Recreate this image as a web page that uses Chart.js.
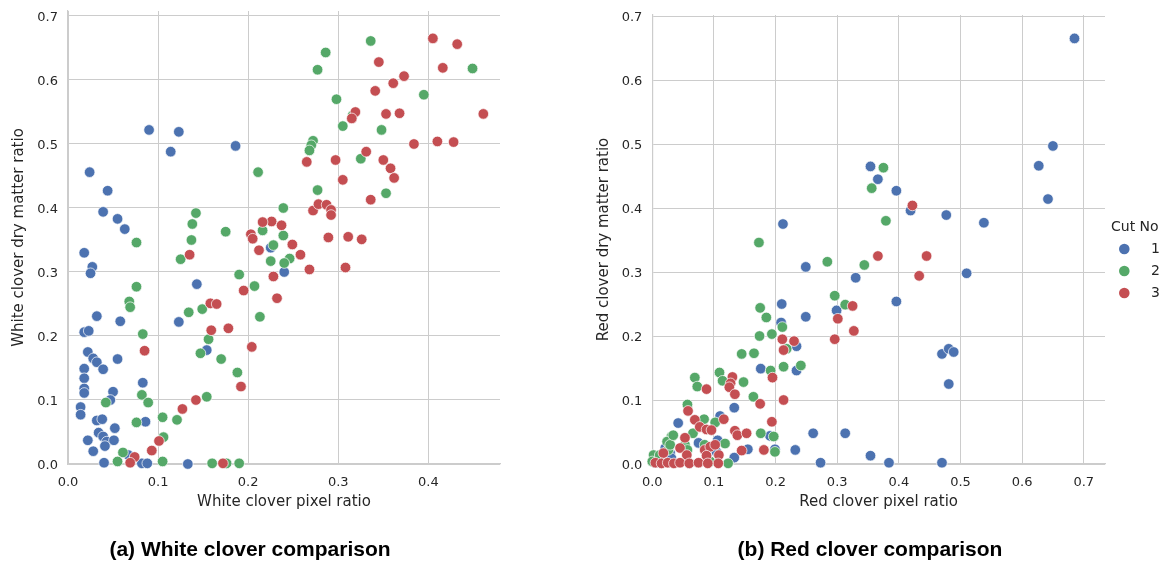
<!DOCTYPE html>
<html><head><meta charset="utf-8">
<script src="https://cdn.jsdelivr.net/npm/chart.js@4.4.0/dist/chart.umd.min.js"></script>
<style>
body{margin:0;background:#fff;width:1167px;height:561px;overflow:hidden;position:relative;}
canvas{position:absolute;top:0;}
#c1{left:0}
#c2{left:583px}
.cap{position:absolute;top:537px;line-height:24px;font:bold 21px "Liberation Sans",Arial,sans-serif;color:#000;white-space:nowrap;transform:translateX(-50%);}
</style></head><body>
<canvas id="c1" width="583" height="561"></canvas>
<canvas id="c2" width="584" height="561"></canvas>
<div class="cap" style="left:250px">(a) White clover comparison</div>
<div class="cap" style="left:870px">(b) Red clover comparison</div>
<script>
const cutLabels = ['1', '2', '3'];
const cutColors = ['#4c72b0', '#55a868', '#c44e52'];
const yTicks = [0, 0.1, 0.2, 0.3, 0.4, 0.5, 0.6, 0.7];
const whiteXTicks = [0, 0.1, 0.2, 0.3, 0.4];
const redXTicks = [0, 0.1, 0.2, 0.3, 0.4, 0.5, 0.6, 0.7];

const whiteCut1 = [
[0.090,0.522],[0.123,0.519],[0.114,0.488],[0.186,0.497],[0.024,0.456],[0.044,0.427],[0.039,0.394],
[0.055,0.383],[0.063,0.367],[0.018,0.330],[0.027,0.308],[0.025,0.298],[0.143,0.281],[0.032,0.231],
[0.058,0.223],[0.123,0.222],[0.018,0.206],[0.023,0.208],[0.022,0.175],[0.028,0.165],[0.032,0.159],
[0.039,0.148],[0.055,0.164],[0.018,0.149],[0.018,0.134],[0.018,0.118],[0.018,0.111],[0.083,0.127],
[0.050,0.113],[0.047,0.100],[0.014,0.089],[0.014,0.077],[0.032,0.068],[0.038,0.070],[0.086,0.066],
[0.052,0.056],[0.034,0.049],[0.039,0.043],[0.043,0.035],[0.051,0.037],[0.022,0.037],[0.041,0.028],
[0.028,0.020],[0.040,0.002],[0.067,0.014],[0.082,0.001],[0.088,0.001],[0.133,0.000],[0.154,0.178],
[0.225,0.338],[0.240,0.300]
];
const whiteCut2 = [
[0.286,0.643],[0.336,0.661],[0.277,0.616],[0.449,0.618],[0.298,0.570],[0.395,0.577],[0.316,0.545],
[0.305,0.528],[0.348,0.522],[0.272,0.505],[0.270,0.498],[0.268,0.490],[0.325,0.477],[0.277,0.428],
[0.353,0.423],[0.239,0.400],[0.239,0.357],[0.211,0.456],[0.142,0.392],[0.138,0.375],[0.175,0.363],
[0.137,0.350],[0.125,0.320],[0.216,0.365],[0.228,0.342],[0.225,0.317],[0.246,0.321],[0.240,0.314],
[0.190,0.296],[0.207,0.278],[0.134,0.237],[0.149,0.242],[0.213,0.230],[0.156,0.195],[0.147,0.173],
[0.170,0.164],[0.188,0.143],[0.076,0.346],[0.076,0.277],[0.068,0.254],[0.069,0.245],[0.083,0.203],
[0.082,0.108],[0.089,0.096],[0.042,0.096],[0.154,0.105],[0.076,0.065],[0.105,0.073],[0.121,0.069],
[0.106,0.042],[0.061,0.018],[0.055,0.004],[0.105,0.004],[0.160,0.001],[0.176,0.001],[0.190,0.001]
];
const whiteCut3 = [
[0.405,0.665],[0.432,0.656],[0.345,0.628],[0.416,0.619],[0.361,0.595],[0.373,0.606],[0.341,0.583],
[0.461,0.547],[0.319,0.550],[0.315,0.540],[0.353,0.547],[0.368,0.548],[0.384,0.500],[0.410,0.504],
[0.428,0.503],[0.331,0.488],[0.265,0.472],[0.297,0.475],[0.350,0.475],[0.358,0.462],[0.362,0.447],
[0.305,0.444],[0.336,0.413],[0.272,0.396],[0.278,0.406],[0.287,0.405],[0.292,0.397],[0.292,0.389],
[0.226,0.379],[0.237,0.373],[0.216,0.378],[0.289,0.354],[0.311,0.355],[0.326,0.351],[0.249,0.343],
[0.258,0.327],[0.268,0.304],[0.308,0.307],[0.228,0.293],[0.232,0.259],[0.203,0.359],[0.205,0.352],
[0.212,0.334],[0.135,0.327],[0.195,0.271],[0.158,0.251],[0.165,0.250],[0.159,0.209],[0.178,0.212],
[0.204,0.183],[0.085,0.177],[0.192,0.121],[0.142,0.100],[0.127,0.086],[0.101,0.036],[0.093,0.021],
[0.074,0.011],[0.069,0.002],[0.172,0.001]
];

const redCut1 = [
[0.685,0.665],[0.650,0.497],[0.627,0.466],[0.642,0.414],[0.354,0.465],[0.366,0.445],[0.396,0.427],
[0.419,0.396],[0.477,0.389],[0.538,0.377],[0.330,0.291],[0.510,0.298],[0.299,0.240],[0.396,0.254],
[0.470,0.172],[0.481,0.180],[0.489,0.175],[0.481,0.125],[0.313,0.048],[0.354,0.013],[0.384,0.002],
[0.470,0.002],[0.273,0.002],[0.212,0.375],[0.249,0.308],[0.210,0.250],[0.209,0.221],[0.249,0.230],
[0.234,0.184],[0.176,0.149],[0.234,0.146],[0.133,0.088],[0.042,0.064],[0.110,0.075],[0.075,0.033],
[0.106,0.037],[0.191,0.044],[0.155,0.023],[0.199,0.023],[0.133,0.010],[0.232,0.022],[0.021,0.025],
[0.029,0.017],[0.031,0.009],[0.012,0.006],[0.104,0.019],[0.261,0.048],[0.005,0.002],[0.060,0.001]
];
const redCut2 = [
[0.375,0.463],[0.356,0.431],[0.379,0.380],[0.284,0.316],[0.344,0.311],[0.296,0.263],[0.313,0.249],
[0.173,0.346],[0.175,0.244],[0.185,0.229],[0.211,0.214],[0.174,0.200],[0.194,0.203],[0.145,0.172],
[0.165,0.173],[0.218,0.180],[0.213,0.152],[0.241,0.154],[0.192,0.146],[0.148,0.128],[0.164,0.105],
[0.109,0.143],[0.114,0.130],[0.069,0.135],[0.073,0.121],[0.057,0.093],[0.084,0.070],[0.102,0.065],
[0.066,0.048],[0.176,0.048],[0.197,0.043],[0.118,0.032],[0.199,0.019],[0.031,0.043],[0.024,0.035],
[0.026,0.022],[0.029,0.030],[0.053,0.030],[0.057,0.022],[0.085,0.030],[0.034,0.045],[0.123,0.001],
[0.002,0.014],[0.000,0.004],[0.012,0.014],[0.094,0.004]
];
const redCut3 = [
[0.422,0.404],[0.366,0.325],[0.445,0.325],[0.433,0.294],[0.325,0.247],[0.301,0.227],[0.327,0.208],
[0.296,0.195],[0.211,0.195],[0.230,0.192],[0.213,0.178],[0.195,0.135],[0.213,0.100],[0.088,0.117],
[0.175,0.094],[0.130,0.136],[0.127,0.126],[0.125,0.120],[0.134,0.109],[0.058,0.083],[0.116,0.070],
[0.069,0.069],[0.077,0.058],[0.088,0.054],[0.096,0.053],[0.134,0.052],[0.138,0.045],[0.153,0.048],
[0.194,0.066],[0.053,0.041],[0.045,0.025],[0.085,0.022],[0.094,0.027],[0.102,0.030],[0.145,0.021],
[0.181,0.022],[0.018,0.017],[0.056,0.014],[0.088,0.013],[0.108,0.014],[0.107,0.001],[0.005,0.002],
[0.015,0.001],[0.025,0.002],[0.035,0.001],[0.045,0.002],[0.060,0.001],[0.075,0.002],[0.090,0.001]
];

const TEXT = '#262626';
const GRID = '#cccccc';
const FONT = '"DejaVu Sans", sans-serif';

function toPts(a) { return a.map(p => ({x: p[0], y: p[1]})); }

const legendPlugin = {
  id: 'cutLegend',
  afterDraw(chart) {
    const ctx = chart.ctx;
    ctx.save();
    ctx.fillStyle = TEXT;
    ctx.font = '14px ' + FONT;
    ctx.textBaseline = 'middle';
    ctx.textAlign = 'left';
    ctx.fillText('Cut No', 528, 227);
    cutLabels.forEach((lab, i) => {
      const y = 249 + i * 22;
      ctx.beginPath();
      ctx.arc(541.3, y, 5.3, 0, Math.PI * 2);
      ctx.fillStyle = cutColors[i];
      ctx.fill();
      ctx.fillStyle = TEXT;
      ctx.fillText(lab, 568, y);
    });
    ctx.restore();
  }
};

function makeChart(id, sets, xTicks, o) {
  const datasets = sets.map((s, i) => ({
    label: cutLabels[i],
    data: toPts(s),
    backgroundColor: cutColors[i],
    borderColor: '#ffffff',
    borderWidth: 0.7,
    pointRadius: 5.3,
    pointHoverRadius: 5.3,
    clip: false,
    order: 3 - i
  }));
  return new Chart(document.getElementById(id), {
    type: 'scatter',
    data: {datasets},
    plugins: o.legend ? [legendPlugin] : [],
    options: {
      responsive: false,
      animation: false,
      devicePixelRatio: 1,
      events: [],
      layout: {autoPadding: false, padding: {left: 0, right: o.padRight, top: o.padTop, bottom: 47}},
      plugins: {legend: {display: false}, tooltip: {enabled: false}},
      scales: {
        x: {
          type: 'linear', min: 0, max: o.xMax,
          afterFit: s => { s.height = 50; s.paddingLeft = 0; s.paddingRight = 0; },
          afterBuildTicks: s => { s.ticks = xTicks.map(v => ({value: v})); },
          grid: {color: GRID, lineWidth: 1, drawTicks: false},
          border: {display: true, color: GRID, width: 1.2},
          ticks: {padding: 11, color: TEXT, font: {family: FONT, size: 13}, maxRotation: 0,
                  callback: v => Number(v).toFixed(1)},
          title: {display: true, text: o.xTitle, color: TEXT, font: {family: FONT, size: 15},
                  padding: {top: 0, bottom: 3}}
        },
        y: {
          type: 'linear', min: 0, max: o.yMax,
          afterFit: s => { s.width = o.yWidth; s.paddingTop = 0; s.paddingBottom = 0; },
          afterBuildTicks: s => { s.ticks = yTicks.map(v => ({value: v})); },
          grid: {color: GRID, lineWidth: 1, drawTicks: false},
          border: {display: true, color: GRID, width: 1.2},
          ticks: {padding: 10, labelOffset: 1.5, color: TEXT, font: {family: FONT, size: 13},
                  callback: v => Number(v).toFixed(1)},
          title: {display: true, text: o.yTitle, color: TEXT, font: {family: FONT, size: 15},
                  padding: {top: o.yTitlePad, bottom: 0}}
        }
      }
    }
  });
}

makeChart('c1', [whiteCut1, whiteCut2, whiteCut3], whiteXTicks, {
  xMax: 0.4795, yMax: 0.7078, padRight: 83, padTop: 11, yWidth: 68, yTitlePad: 10,
  xTitle: 'White clover pixel ratio', yTitle: 'White clover dry matter ratio', legend: false
});
makeChart('c2', [redCut1, redCut2, redCut3], redXTicks, {
  xMax: 0.7345, yMax: 0.7016, padRight: 62, padTop: 15, yWidth: 69.3, yTitlePad: 12,
  xTitle: 'Red clover pixel ratio', yTitle: 'Red clover dry matter ratio', legend: true
});
</script>
</body></html>
